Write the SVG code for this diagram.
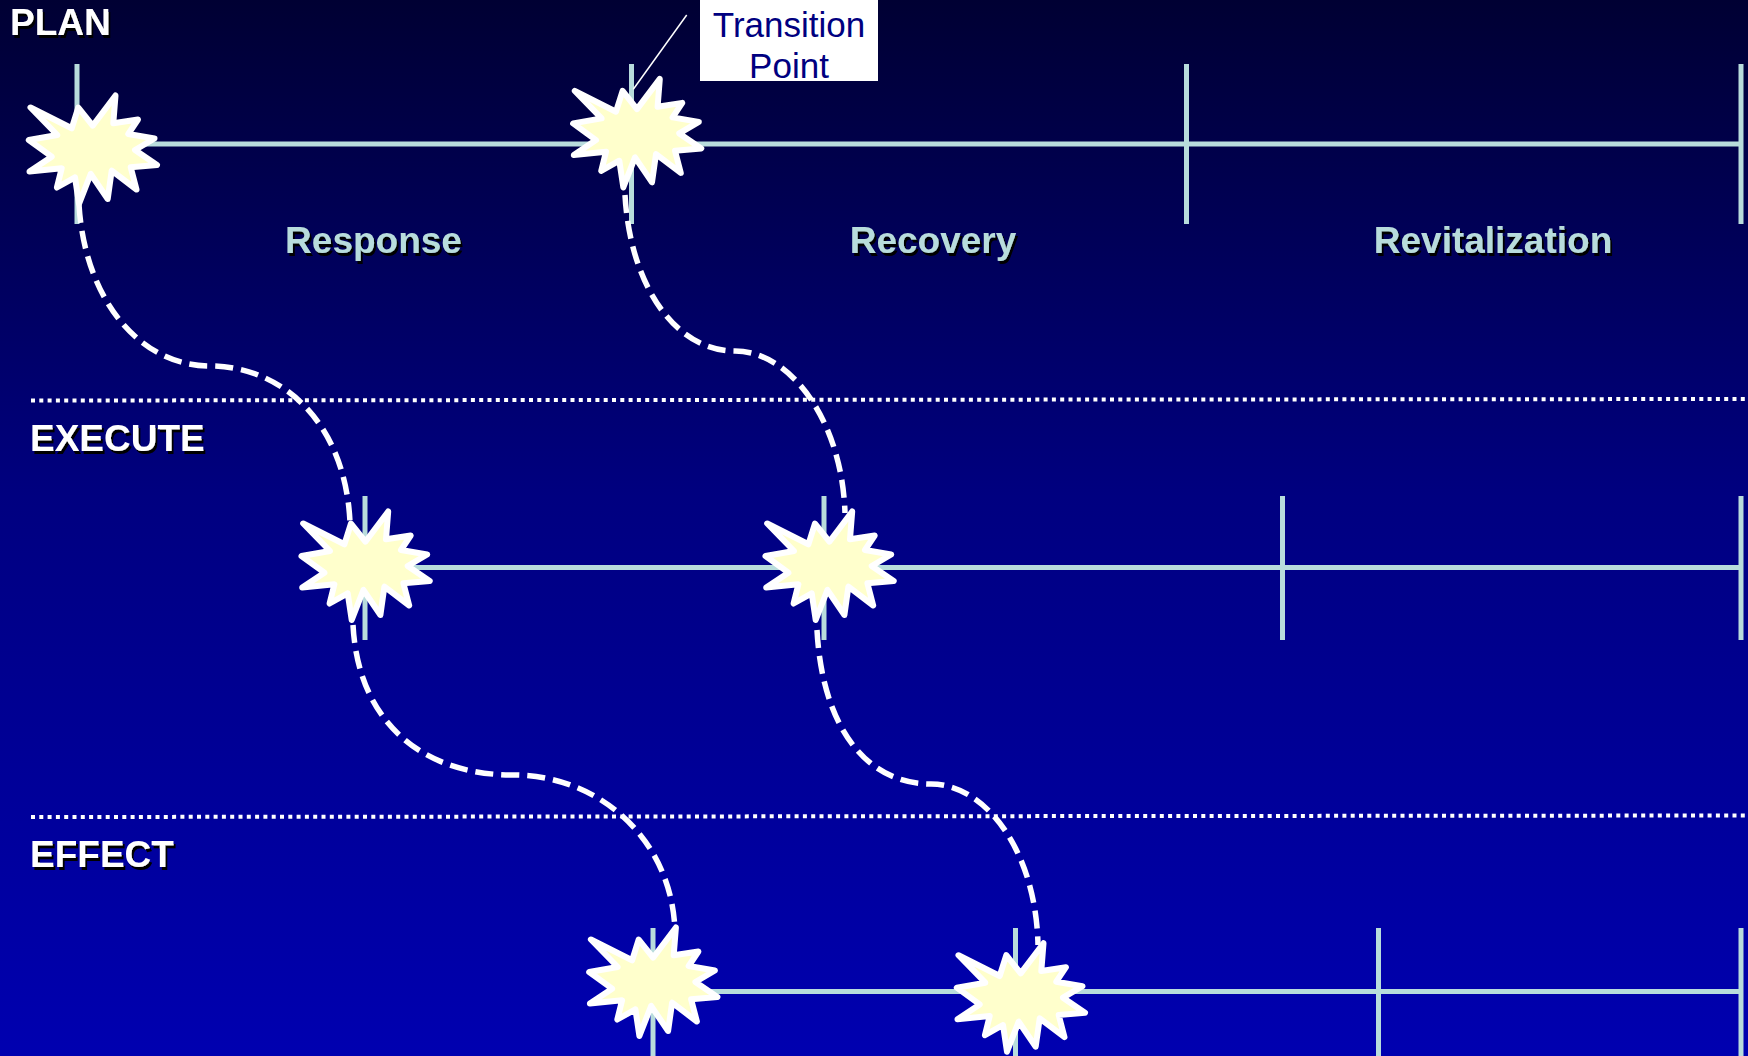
<svg xmlns="http://www.w3.org/2000/svg" width="1748" height="1056" viewBox="0 0 1748 1056">
<style>
.track{stroke:#b8dcdc;stroke-width:5;fill:none}
.dots{stroke:#fff;stroke-width:4;stroke-dasharray:4 4.3;fill:none}
.curve{stroke:#fff;stroke-width:5.5;stroke-dasharray:18 8;fill:none}
.star{fill:#ffffcc;stroke:#fff;stroke-width:6;stroke-linejoin:round}
.head{font:bold 37px "Liberation Sans",Arial,sans-serif;fill:#fff;filter:url(#sh)}
.phase{font:bold 37px "Liberation Sans",Arial,sans-serif;fill:#b8dcdc;text-anchor:middle;filter:url(#sh)}
.note{font:35px "Liberation Sans",Arial,sans-serif;fill:#000080;text-anchor:middle}
</style>
<defs>
<linearGradient id="bg" x1="0" y1="0" x2="0" y2="1"><stop offset="0" stop-color="#000033"/><stop offset=".47" stop-color="#000080"/><stop offset="1" stop-color="#0000b0"/></linearGradient>
<filter id="sh" x="-10%" y="-20%" width="120%" height="150%"><feOffset in="SourceAlpha" dx="2" dy="3" result="o"/><feMerge><feMergeNode in="o"/><feMergeNode in="SourceGraphic"/></feMerge></filter>
<path id="burst" class="star" d="M30.5,107.5 L71.7,128.3 78.3,107.5 92.7,125.7 115.5,95.5 113.3,123.3 138,119.5 128.3,134 154.5,138.5 135,150 157,165 130.7,167.3 136.5,189.5 111.7,170.7 107.7,199 90.7,174 79,204 75,177.3 56.9,187.5 61.7,168.3 29.5,171.5 51.7,156.7 28.8,140 57.3,135 Z"/>
</defs>
<rect width="1748" height="1056" fill="url(#bg)"/>
<g id="tracks">
<path class="track" d="M77,144H1741M77,64V224M631.5,64V224M1186.5,64V224M1741,64V224"/>
<path class="track" d="M365,567.5H1741M365,496V640M824,496V640M1282.5,496V640M1741,496V640"/>
<path class="track" d="M653,991.5H1741M653,928V1056M1015.5,928V1056M1378.5,928V1056M1741,928V1056"/>
</g>
<g id="dividers">
<path class="dots" d="M31,400.5L1748,399"/>
<path class="dots" d="M31,817L1748,815.5"/>
</g>
<g id="connectors">
<path class="curve" d="M79,205C85,300 140,366 210,366C280,366 345,420 350,522"/>
<path class="curve" d="M625,195C630,285 675,351 735,351C790,351 842,420 845,513"/>
<path class="curve" d="M353,625C358,720 420,775 513,775C600,775 672,840 675,931"/>
<path class="curve" d="M817,630C822,725 865,784 931,784C985,784 1036,850 1038,945"/>
<path stroke="#fff" stroke-width="1.5" fill="none" d="M686.7,15L633.3,89.3"/>
</g>
<g id="star-plan-1"><use href="#burst"/></g>
<g id="star-plan-2"><use href="#burst" x="544.3" y="-16.6"/></g>
<g id="star-execute-1"><use href="#burst" x="272.7" y="416"/></g>
<g id="star-execute-2"><use href="#burst" x="736.7" y="416"/></g>
<g id="star-effect-1"><use href="#burst" x="560.4" y="832"/></g>
<g id="star-effect-2"><use href="#burst" x="928" y="847.7"/></g>
<g id="callout"><rect x="700" y="0" width="178" height="81" fill="#fff"/>
<text class="note" x="789" y="37">Transition</text><text class="note" x="789" y="78">Point</text></g>
<g id="labels">
<text class="head" x="10" y="35">PLAN</text>
<text class="head" x="30" y="451">EXECUTE</text>
<text class="head" x="30" y="867">EFFECT</text>
<text class="phase" x="373.5" y="253">Response</text>
<text class="phase" x="933" y="253">Recovery</text>
<text class="phase" x="1493" y="253">Revitalization</text>
</g>
</svg>
